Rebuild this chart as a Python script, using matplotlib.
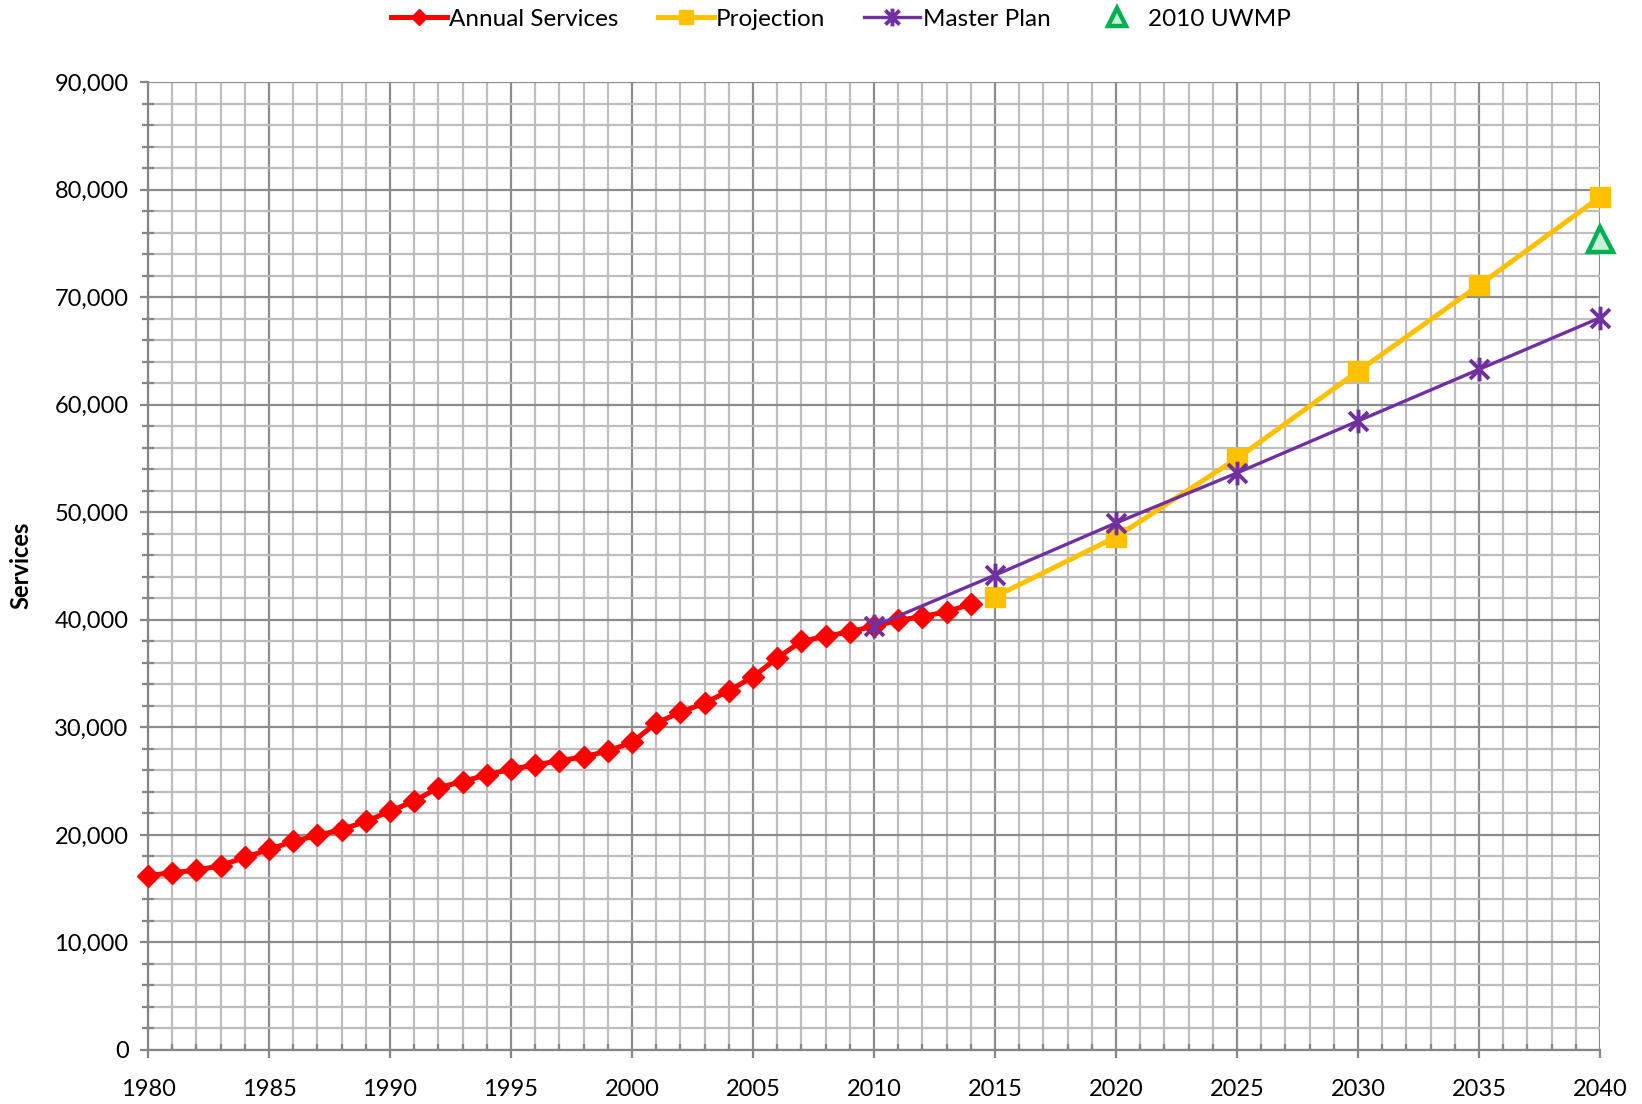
import matplotlib
matplotlib.use("Agg")
import matplotlib.pyplot as plt
from matplotlib.path import Path
from matplotlib.ticker import MultipleLocator, FuncFormatter

plt.rcParams["font.family"] = ["Lato", "DejaVu Sans"]

# annual services 1980-2014
years = list(range(1980, 2015))
services = [16200, 16500, 16700, 17150, 17900, 18650, 19400, 19950, 20500, 21250,
            22200, 23150, 24400, 24950, 25600, 26100, 26500, 26900, 27250, 27800,
            28600, 30400, 31400, 32250, 33400, 34700, 36450, 38000, 38450, 38900,
            39400, 39950, 40300, 40750, 41450]

proj_years = [2015, 2020, 2025, 2030, 2035, 2040]
projection = [42150, 47700, 55000, 63100, 71100, 79300]

mp_years = [2010, 2015, 2020, 2025, 2030, 2035, 2040]
master_plan = [39400, 44150, 49000, 53650, 58480, 63280, 68080]

uwmp_years = [2040]
uwmp = [75400]

RED = "#ff0000"
YELLOW = "#ffc000"
PURPLE = "#7030a0"
GREEN = "#00b050"

# excel style star: X with a vertical bar
star = Path([(-1, -1), (1, 1), (-1, 1), (1, -1), (0, -1.25), (0, 1.25)],
            [Path.MOVETO, Path.LINETO, Path.MOVETO, Path.LINETO, Path.MOVETO, Path.LINETO])

fig = plt.figure(figsize=(16.42, 11.04), dpi=100)
ax = fig.add_axes([148 / 1642, 54 / 1104, (1600 - 148) / 1642, (1050 - 82) / 1104])

ax.plot(years, services, color=RED, lw=3.6, marker="D", ms=11, mec=RED,
        label="Annual Services", zorder=4, solid_joinstyle="round", clip_on=False)
ax.plot(proj_years, projection, color=YELLOW, lw=3.6, marker="s", ms=14, mec=YELLOW,
        label="Projection", zorder=3, clip_on=False)
ax.plot(mp_years, master_plan, color=PURPLE, lw=2.4, marker=star, ms=17, mew=2.8,
        mec=PURPLE, label="Master Plan", zorder=5, clip_on=False)
ax.plot(uwmp_years, uwmp, ls="none", marker="^", ms=18, mew=3.2, mec=GREEN,
        mfc="#c6f2d8", label="2010 UWMP", zorder=6, clip_on=False)

ax.set_xlim(1980, 2040)
ax.set_ylim(0, 90000)
ax.xaxis.set_major_locator(MultipleLocator(5))
ax.xaxis.set_minor_locator(MultipleLocator(1))
ax.yaxis.set_major_locator(MultipleLocator(10000))
ax.yaxis.set_minor_locator(MultipleLocator(2000))
ax.yaxis.set_major_formatter(FuncFormatter(lambda v, p: f"{int(v):,}"))

ax.grid(which="major", color="#8c8c8c", lw=1.6, zorder=0)
ax.grid(which="minor", color="#bdbdbd", lw=1.6, zorder=0)
ax.set_axisbelow(True)
for s in ["top", "right"]:
    ax.spines[s].set_visible(False)
for s in ["left", "bottom"]:
    ax.spines[s].set_color("#868686")
    ax.spines[s].set_linewidth(1.6)

ax.tick_params(which="major", direction="out", length=6, width=1.6, color="#868686",
               labelsize=17, labelcolor="black")
ax.tick_params(axis="x", which="major", pad=15)
ax.tick_params(axis="y", which="major", pad=8)
ax.tick_params(axis="y", which="minor", direction="inout", length=8, width=1.6, color="#868686")
ax.tick_params(axis="x", which="minor", direction="in", length=4, width=1.6, color="#868686")

fig.text(21 / 1642, 0.488, "Services", rotation=90, ha="center", va="center",
         fontsize=17, fontweight="bold")

fig.legend(loc="upper center", bbox_to_anchor=(0.512, 1.012), ncol=4, frameon=False,
           fontsize=17.5, handlelength=2.3, columnspacing=1.6, handletextpad=0.1,
           markerscale=0.75)

fig.savefig("out.png", dpi=100)
